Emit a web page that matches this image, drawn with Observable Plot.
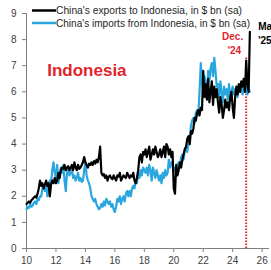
<!DOCTYPE html>
<html>
<head>
<meta charset="utf-8">
<script src="https://cdn.jsdelivr.net/npm/d3@7"></script>
<script src="https://cdn.jsdelivr.net/npm/@observablehq/plot@0.6"></script>
<style>
  html, body { margin: 0; padding: 0; background: #fff; }
  #chart { position: relative; width: 271px; height: 270px; overflow: hidden; }
</style>
</head>
<body>
<div id="chart"></div>
<script>
// Monthly series, Jan 2010 .. Mar 2025, $ bn (seasonally adjusted)
const startYear = 10; // 2010, axis labelled in two-digit years
const exportsToIndonesia = [
  1.70,1.75,1.80,1.75,1.85,1.90,1.95,2.00,1.95,2.10,2.30,2.60, // 2010
  2.40,2.50,2.30,2.45,2.60,2.40,2.50,2.00,2.45,2.60,2.50,2.70, // 2011
  2.50,2.60,2.90,2.70,3.00,3.10,3.05,3.20,3.00,3.10,3.15,3.00, // 2012
  3.10,3.20,3.00,3.30,3.10,3.00,3.20,3.05,3.10,3.20,3.30,3.50, // 2013
  3.30,3.20,3.10,3.25,3.20,3.30,3.20,3.35,3.25,3.40,3.30,3.50, // 2014
  3.90,2.90,2.80,2.85,2.70,2.80,2.60,2.75,2.80,2.70,2.65,2.80, // 2015
  2.70,2.60,2.80,2.75,2.90,2.60,2.70,2.80,2.75,2.70,2.90,2.80, // 2016
  2.70,2.80,2.75,2.90,2.60,2.50,2.70,3.00,3.50,3.60,3.30,3.70, // 2017
  3.60,3.80,3.50,3.70,3.90,3.40,3.60,3.80,3.60,3.90,3.70,3.50, // 2018
  3.60,3.80,3.50,3.70,3.90,3.50,4.00,3.90,3.60,3.80,3.50,3.70, // 2019
  2.30,2.10,3.20,2.80,3.00,3.30,3.10,3.40,3.60,3.80,3.90,4.20, // 2020
  4.30,4.00,4.50,4.40,4.60,5.00,4.90,5.20,5.30,5.10,5.40,5.30, // 2021
  6.80,5.80,6.30,5.70,6.50,5.60,6.00,6.40,5.50,6.20,5.80,6.10, // 2022
  5.60,5.20,5.80,5.50,5.00,5.30,5.70,5.40,5.60,5.30,5.80,6.00, // 2023
  5.40,5.00,5.80,6.20,5.90,6.30,6.00,6.40,6.20,6.50,6.00,7.20, // 2024
  6.30,6.00,8.30                                               // 2025
];
const importsFromIndonesia = [
  1.50,1.60,1.55,1.70,1.60,1.65,1.75,1.80,1.70,1.90,1.85,2.00, // 2010
  2.00,2.30,2.40,2.20,2.50,2.00,2.40,2.60,2.50,3.00,3.30,2.90, // 2011
  2.70,3.20,2.50,2.80,3.10,2.90,3.20,2.60,2.20,2.90,3.00,2.80, // 2012
  2.90,3.00,2.70,2.80,2.60,2.70,2.90,2.60,2.70,2.55,2.60,3.00, // 2013
  3.30,2.80,2.60,2.50,2.30,2.00,1.90,1.80,1.90,1.70,1.60,1.50, // 2014
  1.55,1.70,1.60,1.80,1.65,1.90,1.80,1.70,1.80,1.60,1.70,1.50, // 2015
  1.40,1.60,1.90,1.80,2.00,1.70,1.90,2.00,1.80,2.10,2.20,2.00, // 2016
  2.20,2.00,2.30,2.40,2.30,2.60,2.50,2.90,2.70,3.00,2.80,3.10, // 2017
  3.00,2.90,3.10,2.80,3.20,3.00,2.60,3.10,2.90,2.70,3.00,2.80, // 2018
  2.60,2.80,2.50,2.90,2.70,3.00,2.80,2.90,3.40,3.10,3.30,3.20, // 2019
  3.00,3.10,2.90,3.20,3.30,3.10,3.50,3.60,3.40,3.80,3.90,3.70, // 2020
  4.00,4.20,4.70,4.90,5.00,4.80,5.20,5.30,5.10,6.00,7.10,6.40, // 2021
  6.00,6.60,6.30,5.90,6.80,6.40,6.90,7.10,6.60,7.30,6.80,6.20, // 2022
  6.30,5.80,6.40,6.00,5.60,6.20,5.90,6.10,5.70,6.30,5.80,6.00, // 2023
  6.20,5.90,6.10,6.00,5.80,6.20,6.00,6.30,5.90,6.10,6.50,6.20, // 2024
  5.90,6.10,6.00                                               // 2025
];
const seriesNames = ["China's exports to Indonesia, in $ bn (sa)", "China's imports from Indonesia, in $ bn (sa)"];
const seriesColors = ["#000000", "#2aa6df"];
const xTicks = [10, 12, 14, 16, 18, 20, 22, 24, 26];
const yTicks = [0, 1, 2, 3, 4, 5, 6, 7, 8, 9];
const marker = {x: 24 + 11/12, top: 7.3};       // Dec. '24
const titleText = {label: "Indonesia", x: 14.1, y: 6.8};
const decLabel = ["Dec.", "'24"];
const marLabel = ["Mar.", "'25"];

const toRows = (arr, name) => arr.map((v, i) => ({t: startYear + i / 12, v, name}));
const exportsRows = toRows(exportsToIndonesia, seriesNames[0]);
const importsRows = toRows(importsFromIndonesia, seriesNames[1]);

const W = 271, H = 270;
const font = "'Liberation Sans', Arial, sans-serif";

const plot = Plot.plot({
  width: W, height: H,
  marginLeft: 26, marginRight: 2, marginTop: 13, marginBottom: 22,
  style: {fontFamily: font, fontSize: "10px", color: "#404040", background: "#fff", overflow: "visible"},
  x: {domain: [10, 26.5], ticks: xTicks, tickFormat: d => String(d), label: null},
  y: {domain: [0, 9], ticks: yTicks, label: null},
  marks: [
    Plot.axisY({ticks: yTicks, tickSize: 4, tickPadding: 6, stroke: "#7f7f7f", label: null}),
    Plot.axisX({ticks: xTicks, tickSize: 4, tickPadding: 4, stroke: "#7f7f7f", label: null, tickFormat: d => String(d)}),
    Plot.ruleX([10], {stroke: "#7f7f7f", strokeWidth: 1}),
    Plot.ruleY([0], {stroke: "#7f7f7f", strokeWidth: 1}),
    Plot.ruleX([marker], {x: "x", y1: 0, y2: "top", stroke: "#e0242c", strokeWidth: 2, strokeDasharray: "1.6,1.4"}),
    Plot.line(importsRows, {x: "t", y: "v", stroke: seriesColors[1], strokeWidth: 2.2, curve: "linear"}),
    Plot.line(exportsRows, {x: "t", y: "v", stroke: seriesColors[0], strokeWidth: 2.2, curve: "linear"}),
    Plot.text([titleText], {x: "x", y: "y", text: "label", fill: "#e0242c", fontSize: 17, fontWeight: "bold", fontFamily: font}),
    Plot.text([marker], {x: "x", y: 9, text: () => decLabel[0], dx: -3, dy: 23.5, textAnchor: "end", fill: "#e0242c", fontSize: 10, fontWeight: "bold", fontFamily: font}),
    Plot.text([marker], {x: "x", y: 9, text: () => decLabel[1], dx: -5, dy: 37, textAnchor: "end", fill: "#e0242c", fontSize: 10, fontWeight: "bold", fontFamily: font}),
    Plot.text([marker], {x: "x", y: 9, text: () => marLabel[0], dx: 12, dy: 13.5, textAnchor: "start", fill: "#000", fontSize: 10, fontWeight: "bold", fontFamily: font}),
    Plot.text([marker], {x: "x", y: 9, text: () => marLabel[1], dx: 12, dy: 27.5, textAnchor: "start", fill: "#000", fontSize: 10, fontWeight: "bold", fontFamily: font})
  ]
});

// Legend (top-left, overlapping the plot area as in the original)
const svg = d3.select(plot);
const legendRows = [{y: 10.5, w: 186}, {y: 23, w: 194}];
legendRows.forEach((r, i) => {
  svg.append("line").attr("x1", 32).attr("x2", 56).attr("y1", r.y).attr("y2", r.y)
    .attr("stroke", seriesColors[i]).attr("stroke-width", 2.5);
  svg.append("text").attr("x", 56).attr("y", r.y).attr("dy", "0.35em")
    .attr("text-anchor", "start")
    .attr("font-family", font).attr("font-size", 11).attr("fill", "#262626")
    .attr("textLength", r.w).attr("lengthAdjust", "spacingAndGlyphs")
    .text(seriesNames[i]);
});

document.getElementById("chart").appendChild(plot);
</script>
</body>
</html>
